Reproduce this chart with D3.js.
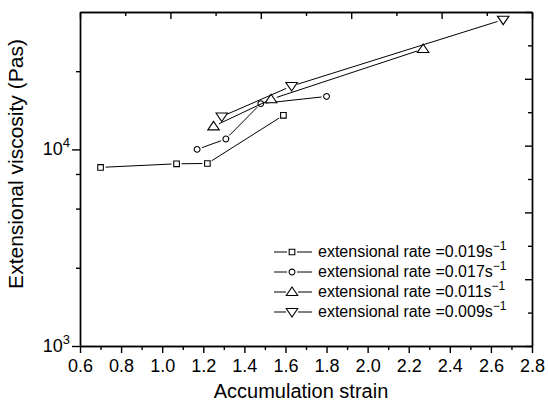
<!DOCTYPE html>
<html>
<head>
<meta charset="utf-8">
<script src="https://cdn.jsdelivr.net/npm/d3@7"></script>
<style>
  body { margin:0; background:#fff; }
  svg { display:block; font-family:"Liberation Sans", Arial, sans-serif; }
  .axis path, .axis line { stroke:#000; stroke-width:1.4; }
</style>
</head>
<body>
<script>
// data
var rateLabels = ["0.019", "0.017", "0.011", "0.009"];
var shapes = ["square", "circle", "triUp", "triDown"];
var strain019 = [0.70, 1.07, 1.22, 1.59],  visc019 = [8100, 8450, 8480, 14900];
var strain017 = [1.17, 1.31, 1.48, 1.80],  visc017 = [10000, 11300, 17100, 18600];
var strain011 = [1.25, 1.53, 2.27],        visc011 = [13100, 18000, 32400];
var strain009 = [1.29, 1.63, 2.66],        visc009 = [14700, 21000, 45700];
var xTicks = [0.6, 0.8, 1.0, 1.2, 1.4, 1.6, 1.8, 2.0, 2.2, 2.4, 2.6, 2.8];
var yTicks = [1000, 10000];
var yMinor = [2500, 5000, 7500, 25000];

var width = 548, height = 406;
var pLeft = 80, pRight = 532, pTop = 12, pBottom = 346;

var svg = d3.select("body").append("svg").attr("width", width).attr("height", height);

var x = d3.scaleLinear().domain([0.6, 2.8]).range([pLeft, pRight]);
var y = d3.scaleLog().domain([1000, 50000]).range([pBottom, pTop]);

// bottom axis
var xMinor = d3.range(0.7, 2.8, 0.2);
svg.append("g").attr("class", "axis").attr("transform", "translate(0," + pBottom + ")")
   .call(d3.axisBottom(x).tickValues(xMinor).tickSize(4).tickFormat("").tickSizeOuter(0));
var gx = svg.append("g").attr("class", "axis").attr("transform", "translate(0," + pBottom + ")")
   .call(d3.axisBottom(x).tickValues(xTicks).tickSize(7).tickSizeOuter(0).tickPadding(6)
         .tickFormat(d3.format(".1f")));
gx.selectAll("text").attr("font-size", 18).attr("fill", "#000");
gx.attr("font-family", null);

// left axis
svg.append("g").attr("class", "axis").attr("transform", "translate(" + pLeft + ",0)")
   .call(d3.axisLeft(y).tickValues(yMinor).tickSize(4).tickFormat("").tickSizeOuter(0));
var gy = svg.append("g").attr("class", "axis").attr("transform", "translate(" + pLeft + ",0)")
   .call(d3.axisLeft(y).tickValues(yTicks).tickSize(8).tickSizeOuter(0).tickFormat(""));
gy.attr("font-family", null);
gy.selectAll(".tick").append("text")
   .attr("x", -10).attr("y", 5).attr("text-anchor", "end").attr("fill", "#000")
   .attr("font-size", 18)
   .each(function(d) {
     var t = d3.select(this);
     t.append("tspan").text("10");
     t.append("tspan").attr("font-size", 13).attr("dy", -8).text(Math.round(Math.log10(d)));
   });

// top and right frame axes with evenly spaced ticks
var frameTop = d3.scaleLinear().domain([0, 10]).range([pLeft, pRight]);
var frameRight = d3.scaleLinear().domain([0, 10]).range([pBottom, pTop]);
svg.append("g").attr("class", "axis").attr("transform", "translate(0," + pTop + ")")
   .call(d3.axisTop(frameTop).tickValues([1, 3, 5, 7, 9]).tickSize(-4).tickFormat("").tickSizeOuter(0));
svg.append("g").attr("class", "axis").attr("transform", "translate(0," + pTop + ")")
   .call(d3.axisTop(frameTop).tickValues([0, 2, 4, 6, 8, 10]).tickSize(-7).tickFormat("").tickSizeOuter(0));
svg.append("g").attr("class", "axis").attr("transform", "translate(" + pRight + ",0)")
   .call(d3.axisRight(frameRight).tickValues([1, 3, 5, 7, 9]).tickSize(-4).tickFormat("").tickSizeOuter(0));
svg.append("g").attr("class", "axis").attr("transform", "translate(" + pRight + ",0)")
   .call(d3.axisRight(frameRight).tickValues([0, 2, 4, 6, 8, 10]).tickSize(-7).tickFormat("").tickSizeOuter(0));

// titles
svg.append("text").attr("x", (pLeft + pRight) / 2 - 5).attr("y", 398).attr("text-anchor", "middle")
   .attr("font-size", 20).text("Accumulation strain");
svg.append("text").attr("transform", "translate(23,164) rotate(-90)").attr("text-anchor", "middle")
   .attr("font-size", 21).text("Extensional viscosity (Pas)");

// markers
function markerPath(shape, s) {
  if (shape === "square") return "M" + (-s) + "," + (-s) + "h" + 2 * s + "v" + 2 * s + "h" + (-2 * s) + "Z";
  if (shape === "circle") return "M" + s + ",0A" + s + "," + s + " 0 1,1 " + (-s) + ",0A" + s + "," + s + " 0 1,1 " + s + ",0Z";
  if (shape === "triUp") return "M0," + (-s) + "L" + (s * 1.15) + "," + (s * 0.7) + "L" + (-s * 1.15) + "," + (s * 0.7) + "Z";
  return "M0," + s + "L" + (s * 1.15) + "," + (-s * 0.7) + "L" + (-s * 1.15) + "," + (-s * 0.7) + "Z";
}
var markSize = { square: 2.8, circle: 2.9, triUp: 5, triDown: 5 };
var gapSize = { square: 5, circle: 5, triUp: 6, triDown: 6 };

var series = [
  { xs: strain019, ys: visc019 },
  { xs: strain017, ys: visc017 },
  { xs: strain011, ys: visc011 },
  { xs: strain009, ys: visc009 }
];

series.forEach(function(s, i) {
  var shape = shapes[i];
  var pts = s.xs.map(function(v, k) { return [x(v), y(s.ys[k])]; });
  var g = svg.append("g");
  for (var k = 0; k < pts.length - 1; k++) {
    var a = pts[k], b = pts[k + 1];
    var dx = b[0] - a[0], dy = b[1] - a[1], len = Math.sqrt(dx * dx + dy * dy);
    var gp = gapSize[shape];
    if (len <= 2 * gp) continue;
    g.append("line")
     .attr("x1", a[0] + dx / len * gp).attr("y1", a[1] + dy / len * gp)
     .attr("x2", b[0] - dx / len * gp).attr("y2", b[1] - dy / len * gp)
     .attr("stroke", "#000").attr("stroke-width", 1);
  }
  g.selectAll("path").data(pts).enter().append("path")
   .attr("transform", function(d) { return "translate(" + d[0] + "," + d[1] + ")"; })
   .attr("d", markerPath(shape, markSize[shape]))
   .attr("fill", "#fff").attr("stroke", "#000").attr("stroke-width", 1.1);
});

// legend
var legend = svg.append("g").attr("transform", "translate(274,252)");
rateLabels.forEach(function(r, i) {
  var shape = shapes[i];
  var row = legend.append("g").attr("transform", "translate(0," + i * 20 + ")");
  var gp = gapSize[shape];
  row.append("line").attr("x1", 0).attr("x2", 18 - gp).attr("stroke", "#000").attr("stroke-width", 1);
  row.append("line").attr("x1", 18 + gp).attr("x2", 38).attr("stroke", "#000").attr("stroke-width", 1);
  row.append("path").attr("transform", "translate(18,0)")
     .attr("d", markerPath(shape, markSize[shape]))
     .attr("fill", "#fff").attr("stroke", "#000").attr("stroke-width", 1.1);
  var t = row.append("text").attr("x", 44).attr("y", 5).attr("font-size", 16);
  t.append("tspan").text("extensional rate =" + r + "s");
  t.append("tspan").attr("font-size", 12).attr("dy", -7).text("\u22121");
});
</script>
</body>
</html>
